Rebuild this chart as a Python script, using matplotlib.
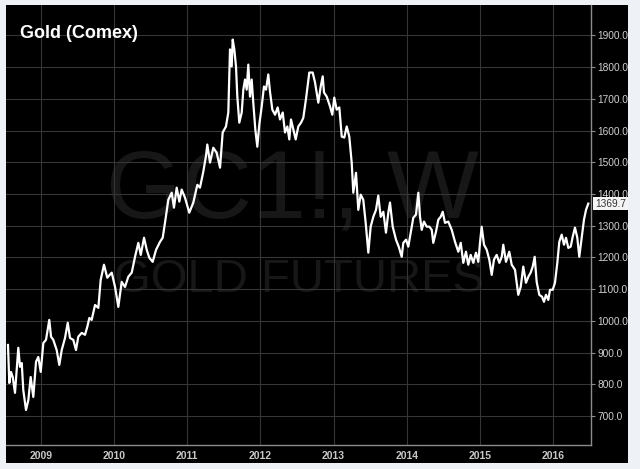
import numpy as np
import matplotlib
matplotlib.use("Agg")
import matplotlib.pyplot as plt
from matplotlib.ticker import FormatStrFormatter

# weekly-ish Comex gold closes (decimal year, USD/oz)
years = [2008.553, 2008.571, 2008.594, 2008.618, 2008.649, 2008.694, 2008.717, 2008.741,
         2008.762, 2008.799, 2008.831, 2008.863, 2008.899, 2008.936, 2008.967, 2009.000,
         2009.036, 2009.072, 2009.117, 2009.141, 2009.172, 2009.218, 2009.254, 2009.287,
         2009.332, 2009.369, 2009.400, 2009.445, 2009.482, 2009.513, 2009.560, 2009.605,
         2009.636, 2009.664, 2009.696, 2009.742, 2009.787, 2009.819, 2009.864, 2009.909,
         2009.970, 2010.015, 2010.060, 2010.106, 2010.151, 2010.196, 2010.243, 2010.288,
         2010.333, 2010.366, 2010.411, 2010.448, 2010.483, 2010.529, 2010.575, 2010.629,
         2010.666, 2010.697, 2010.743, 2010.789, 2010.820, 2010.857, 2010.893, 2010.925,
         2010.971, 2011.029, 2011.084, 2011.139, 2011.175, 2011.220, 2011.257, 2011.275,
         2011.312, 2011.357, 2011.403, 2011.449, 2011.485, 2011.530, 2011.562, 2011.585,
         2011.608, 2011.622, 2011.644, 2011.667, 2011.685, 2011.712, 2011.745, 2011.767,
         2011.790, 2011.813, 2011.835, 2011.858, 2011.881, 2011.903, 2011.931, 2011.958,
         2011.985, 2012.018, 2012.049, 2012.077, 2012.108, 2012.131, 2012.163, 2012.200,
         2012.236, 2012.268, 2012.305, 2012.336, 2012.368, 2012.395, 2012.418, 2012.450,
         2012.482, 2012.518, 2012.555, 2012.586, 2012.623, 2012.668, 2012.714, 2012.746,
         2012.791, 2012.824, 2012.851, 2012.869, 2012.906, 2012.951, 2012.982, 2013.009,
         2013.042, 2013.078, 2013.111, 2013.146, 2013.179, 2013.214, 2013.247, 2013.269,
         2013.306, 2013.337, 2013.370, 2013.405, 2013.438, 2013.474, 2013.506, 2013.542,
         2013.579, 2013.610, 2013.643, 2013.679, 2013.715, 2013.747, 2013.770, 2013.807,
         2013.852, 2013.889, 2013.930, 2013.952, 2013.989, 2014.020, 2014.053, 2014.088,
         2014.125, 2014.157, 2014.180, 2014.203, 2014.234, 2014.271, 2014.307, 2014.340,
         2014.361, 2014.398, 2014.430, 2014.462, 2014.490, 2014.521, 2014.566, 2014.613,
         2014.658, 2014.703, 2014.736, 2014.771, 2014.808, 2014.839, 2014.872, 2014.908,
         2014.944, 2014.976, 2014.999, 2015.022, 2015.054, 2015.091, 2015.126, 2015.159,
         2015.190, 2015.227, 2015.263, 2015.296, 2015.317, 2015.354, 2015.399, 2015.432,
         2015.477, 2015.522, 2015.555, 2015.590, 2015.627, 2015.659, 2015.691, 2015.719,
         2015.746, 2015.773, 2015.809, 2015.846, 2015.873, 2015.900, 2015.932, 2015.955,
         2015.992, 2016.023, 2016.055, 2016.082, 2016.115, 2016.146, 2016.174, 2016.205,
         2016.238, 2016.265, 2016.296, 2016.328, 2016.355, 2016.388, 2016.419, 2016.447,
         2016.478]
price = [924, 804, 839, 823, 773, 915, 855, 867,
         782, 719, 750, 823, 760, 871, 886, 839,
         930, 940, 1003, 950, 940, 908, 861, 908,
         946, 994, 946, 940, 908, 950, 962, 956,
         981, 1009, 1003, 1050, 1041, 1129, 1177, 1136,
         1152, 1107, 1044, 1123, 1107, 1139, 1152, 1202,
         1246, 1208, 1262, 1224, 1199, 1186, 1224, 1249,
         1262, 1309, 1382, 1404, 1357, 1420, 1376, 1414,
         1388, 1341, 1373, 1429, 1420, 1470, 1520, 1556,
         1499, 1546, 1530, 1483, 1594, 1613, 1657, 1856,
         1802, 1887, 1856, 1802, 1707, 1625, 1657, 1729,
         1761, 1729, 1808, 1707, 1761, 1688, 1603, 1549,
         1619, 1676, 1739, 1729, 1777, 1723, 1666, 1650,
         1673, 1635, 1657, 1594, 1613, 1572, 1635, 1603,
         1572, 1613, 1625, 1640, 1700, 1783, 1783, 1752,
         1688, 1739, 1771, 1720, 1707, 1676, 1650, 1704,
         1666, 1673, 1581, 1578, 1613, 1581, 1499, 1404,
         1467, 1350, 1398, 1382, 1309, 1215, 1297, 1328,
         1350, 1395, 1328, 1344, 1278, 1341, 1373, 1297,
         1256, 1234, 1202, 1246, 1256, 1234, 1278, 1325,
         1335, 1404, 1328, 1287, 1313, 1297, 1297, 1287,
         1246, 1281, 1319, 1328, 1344, 1309, 1313, 1287,
         1249, 1218, 1246, 1183, 1218, 1177, 1208, 1183,
         1215, 1186, 1246, 1297, 1240, 1224, 1193, 1145,
         1193, 1208, 1183, 1202, 1240, 1186, 1218, 1177,
         1161, 1082, 1107, 1171, 1120, 1139, 1152, 1171,
         1202, 1123, 1082, 1076, 1060, 1082, 1066, 1098,
         1098, 1120, 1183, 1249, 1272, 1240, 1262, 1230,
         1234, 1265, 1294, 1262, 1202, 1262, 1319, 1350,
         1369.7]
year_ticks = [2009, 2010, 2011, 2012, 2013, 2014, 2015, 2016]
price_ticks = [700, 800, 900, 1000, 1100, 1200, 1300, 1400, 1500, 1600, 1700, 1800, 1900]
last_price = 1369.7

W, H = 640, 469
fig = plt.figure(figsize=(W / 100, H / 100), dpi=100, facecolor="#eef2f7")

# black panel behind everything
bg = fig.add_axes([6 / W, 1 - 463 / H, 622 / W, 458 / H])
bg.set_facecolor("black")
bg.set_xticks([])
bg.set_yticks([])
for s in bg.spines.values():
    s.set_visible(False)

ax = fig.add_axes([6 / W, 1 - 445 / H, 585 / W, 440 / H])
ax.set_facecolor("black")
ax.plot(years, price, color="white", lw=1.6, zorder=3)

ax.set_xlim(2008.526, 2016.515)
ax.set_ylim(608.5, 1996)
ax.set_xticks(year_ticks)
ax.set_xticklabels([str(y) for y in year_ticks])
ax.set_yticks(price_ticks)
ax.yaxis.set_major_formatter(FormatStrFormatter("%.1f"))
ax.yaxis.tick_right()
ax.grid(True, color="#363636", lw=0.8)

for side in ["left", "top"]:
    ax.spines[side].set_visible(False)
for side in ["right", "bottom"]:
    ax.spines[side].set_color("#8c8c8c")
    ax.spines[side].set_linewidth(1.0)

ax.tick_params(axis="y", length=3, width=0.8, color="#8c8c8c", pad=1.5,
               labelsize=7.3, labelcolor="#d0d0d0")
ax.tick_params(axis="x", length=0, pad=4.5, labelsize=7.5, labelcolor="#c8c8c8")
for lab in ax.get_yticklabels():
    lab.set_family("Liberation Sans")
for lab in ax.get_xticklabels():
    lab.set_family("Liberation Sans")
    lab.set_fontweight("bold")

# watermark
ax.text(0.49, 0.575, "GC1!, W", transform=ax.transAxes, ha="center", va="center",
        fontsize=70, color="#171717", family="Liberation Sans", zorder=1)
ax.text(0.50, 0.375, "GOLD FUTURES", transform=ax.transAxes, ha="center", va="center",
        fontsize=34, color="#171717", family="Liberation Sans", zorder=1)

ax.text(0.024, 0.935, "Gold (Comex)", transform=ax.transAxes, ha="left", va="center",
        fontsize=13, fontweight="bold", color="white", family="Liberation Sans", zorder=4)

# last price marker on the price scale
ax.text(1.007, last_price, "%.1f" % last_price, transform=ax.get_yaxis_transform(),
        ha="left", va="center", fontsize=7.3, color="#333333", family="Liberation Sans",
        bbox=dict(facecolor="#f4f4f4", edgecolor="none", pad=1.2), clip_on=False, zorder=5)

plt.savefig("out.png", dpi=100, facecolor=fig.get_facecolor())
plt.close()
